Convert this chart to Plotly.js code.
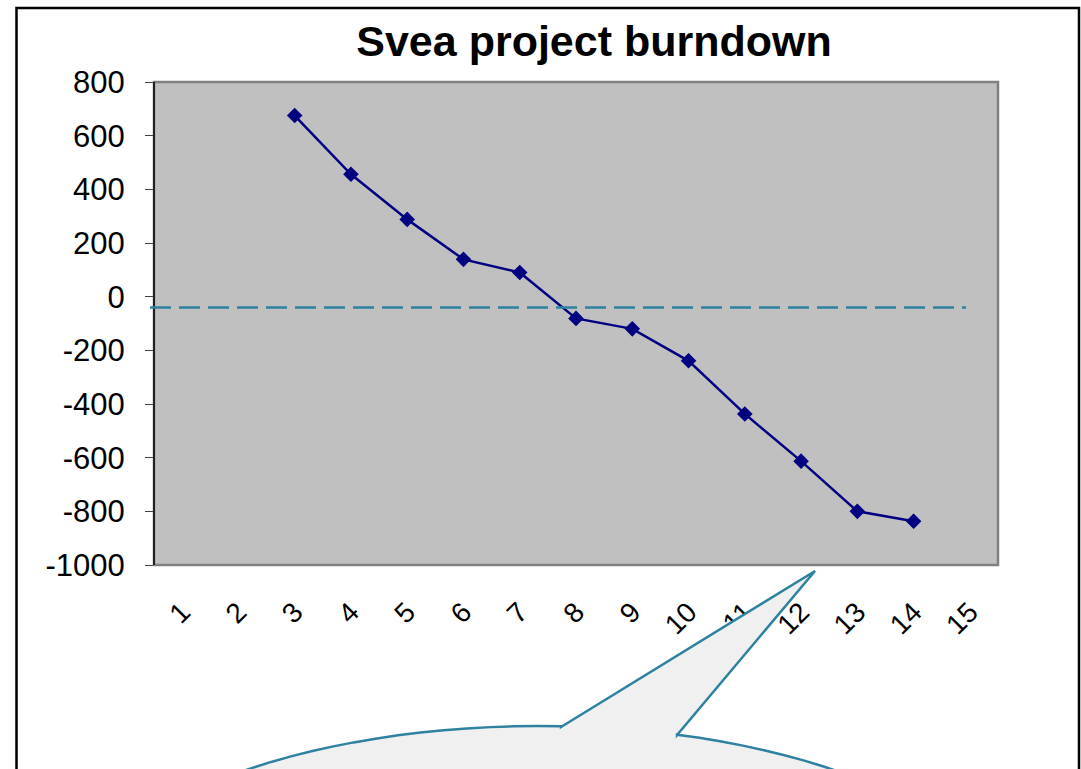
<!DOCTYPE html>
<html>
<head>
<meta charset="utf-8">
<script src="https://cdn.plot.ly/plotly-3.0.1.min.js"></script>
<style>
  html, body { margin: 0; padding: 0; background: #ffffff; }
  #chart { width: 1081px; height: 769px; }
</style>
</head>
<body>
<div id="chart"></div>
<script>
// Sprint days shown on the category axis
const dayLabels = ['1', '2', '3', '4', '5', '6', '7', '8', '9', '10', '11', '12', '13', '14', '15'];
// Value-axis ticks and their labels (plain hyphen for negatives)
const valueTicks = [-1000, -800, -600, -400, -200, 0, 200, 400, 600, 800];
const valueTickLabels = ['-1000', '-800', '-600', '-400', '-200', '0', '200', '400', '600', '800'];
// Days that have a recorded remaining-work figure
const recordedDays = [3, 4, 5, 6, 7, 8, 9, 10, 11, 12, 13, 14];
// Remaining work on each recorded day
const remainingWork = [675, 456, 288, 139, 90, -81, -120, -239, -437, -613, -800, -837];
// Level of the dashed reference line
const referenceLevel = -40;

const W = 1081, H = 769;
const M = { l: 154, r: 83, t: 82, b: 204 };
const plotW = W - M.l - M.r, plotH = H - M.t - M.b;

// pixel -> paper helpers for decorations drawn around the plot
const px = x => (x - M.l) / plotW;
const py = y => 1 - (y - M.t) / plotH;

// speech-bubble callout: a pointed tail joined to a wide ellipse
function calloutPath() {
  const cx = 540, cy = 926, a = 470, b = 200;
  const pts = [[561, 727], [815, 571], [677, 735]];
  const start = Math.acos((677 - cx) / a);
  const end = Math.acos((561 - cx) / a) - 2 * Math.PI;
  const n = 120;
  for (let i = 0; i <= n; i++) {
    const t = start + (end - start) * i / n;
    pts.push([cx + a * Math.cos(t), cy - b * Math.sin(t)]);
  }
  return 'M' + pts.map(p => px(p[0]).toFixed(5) + ',' + py(p[1]).toFixed(5)).join('L') + 'Z';
}

const teal = '#2E82A0';

const trace = {
  x: recordedDays,
  y: remainingWork,
  type: 'scatter',
  mode: 'lines+markers',
  line: { color: '#000080', width: 2.5 },
  marker: { symbol: 'diamond', size: 12, color: '#000080' },
  showlegend: false,
  hoverinfo: 'x+y'
};

const layout = {
  width: W,
  height: H,
  margin: M,
  paper_bgcolor: '#ffffff',
  plot_bgcolor: '#C0C0C0',
  font: { family: '"Liberation Sans", Arial, sans-serif', color: '#000000' },
  title: {
    text: '<b>Svea project burndown</b>',
    font: { size: 43, color: '#000000' },
    xref: 'container', yref: 'container',
    x: 594 / W, xanchor: 'center',
    y: 1 - 41 / H, yanchor: 'middle'
  },
  xaxis: {
    range: [0.5, 15.5],
    tickmode: 'array',
    tickvals: dayLabels.map((d, i) => i + 1),
    ticktext: dayLabels,
    tickangle: -45,
    ticks: '',
    showgrid: false,
    zeroline: false,
    showline: false,
    tickfont: { size: 28, color: '#000000' },
    ticklabelstandoff: 24,
    fixedrange: true
  },
  yaxis: {
    range: [-1000, 800],
    tickmode: 'array',
    tickvals: valueTicks,
    ticktext: valueTickLabels,
    ticks: 'outside',
    ticklen: 8,
    tickwidth: 1,
    tickcolor: '#404040',
    showgrid: false,
    zeroline: false,
    showline: false,
    tickfont: { size: 31, color: '#000000' },
    ticklabelstandoff: 14,
    fixedrange: true
  },
  shapes: [
    // plot area frame
    { type: 'rect', xref: 'paper', yref: 'paper', x0: 0, x1: 1, y0: 0, y1: 1,
      line: { color: '#808080', width: 2.5 }, fillcolor: 'rgba(0,0,0,0)', layer: 'above' },
    // value axis line
    { type: 'line', xref: 'paper', yref: 'paper', x0: 0, x1: 0, y0: 0, y1: 1,
      line: { color: '#000000', width: 1.5 }, layer: 'above' },
    // dashed reference line
    { type: 'line', xref: 'paper', yref: 'y', x0: px(150), x1: px(966),
      y0: referenceLevel, y1: referenceLevel,
      line: { color: teal, width: 2.5, dash: '21px,8px' }, layer: 'above' },
    // chart border
    { type: 'rect', xref: 'paper', yref: 'paper', x0: px(16.5), x1: px(1079), y0: py(800), y1: py(8),
      line: { color: '#000000', width: 2.5 }, fillcolor: 'rgba(0,0,0,0)', layer: 'above' },
    // callout bubble
    { type: 'path', xref: 'paper', yref: 'paper', path: calloutPath(),
      line: { color: teal, width: 2.5 }, fillcolor: '#F0F0F0', layer: 'above' }
  ]
};

Plotly.newPlot('chart', [trace], layout, { displayModeBar: false, staticPlot: true });
</script>
</body>
</html>
